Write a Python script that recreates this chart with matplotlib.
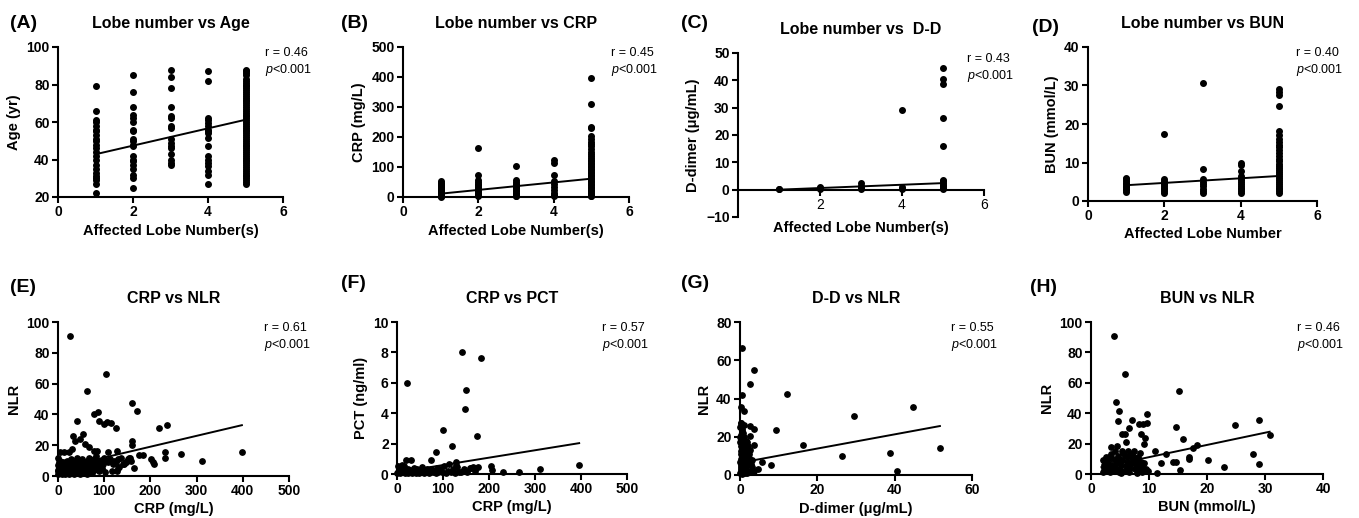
import matplotlib
matplotlib.use("Agg")
from matplotlib import pyplot as plt
import numpy as np

plt.rcParams['font.family'] = ['Liberation Sans', 'DejaVu Sans']
plt.rcParams['axes.labelweight'] = 'bold'
plt.rcParams['mathtext.fontset'] = 'custom'
plt.rcParams['mathtext.it'] = 'Liberation Sans:italic:normal'
plt.rcParams['mathtext.rm'] = 'Liberation Sans:normal'

# ---- data ----
lobes = [1, 2, 3, 4, 5]

# (A) age by number of affected lobes
age_by_lobe = [
    [79, 66, 61, 60, 58, 56, 55, 53, 51, 50, 48, 46, 44, 42, 40, 37, 35, 33, 31, 30, 29, 27, 22],
    [85, 76, 68, 64, 62, 60, 56, 55, 51, 50, 48, 47, 42, 40, 39, 37, 35, 32, 30, 25],
    [88, 84, 78, 68, 63, 62, 58, 57, 51, 49, 47, 46, 43, 40, 38, 37],
    [87, 82, 62, 61, 59.5, 58, 56, 55, 54, 51.5, 47, 42, 40, 38, 36.5, 34, 32, 27],
    [88, 87, 86, 85, 83, 82, 81, 80, 79, 78, 77, 76, 75, 74, 73, 72, 71, 70, 69, 68, 67, 66,
     65, 64, 63, 62, 61, 60, 59, 58, 57, 56, 55, 54, 53, 52, 51, 50, 49, 48, 47, 46, 45, 44,
     43, 42, 41, 40, 39, 38, 37, 36, 35, 34, 33, 32, 31, 30, 29, 28, 27],
]
# (B) CRP by number of affected lobes
crp_by_lobe = [
    [52, 48, 45, 42, 40, 37, 35, 32, 30, 28, 25, 22, 20, 18, 15, 12, 10, 8, 5, 3, 1],
    [165, 72, 56, 50, 45, 40, 35, 30, 25, 20, 15, 10, 6, 2],
    [104, 56, 50, 45, 40, 35, 30, 25, 20, 15, 10, 5, 2],
    [125, 115, 72, 52, 45, 35, 25, 15, 8, 3],
    [397, 311, 235, 230, 205, 195, 185, 178, 170, 160, 150, 145, 138, 130, 125, 120, 115, 110,
     105, 100, 95, 90, 85, 80, 75, 70, 65, 60, 55, 50, 45, 40, 35, 30, 25, 20, 15, 10, 5, 2],
]
# (C) D-dimer by number of affected lobes
dd_by_lobe = [
    [0.2, 0.4],
    [1.0, 0.6, 0.2],
    [2.6, 1.2, 0.6, 0.2],
    [29.3, 0.9, 0.3],
    [44.5, 40.4, 38.8, 26.4, 16.1, 3.6, 3.0, 2.4, 1.8, 1.2, 0.6, 0.2],
]
# (D) BUN by number of affected lobes
bun_by_lobe = [
    [6.0, 5.6, 5.2, 4.8, 4.4, 4.0, 3.6, 3.2, 2.8, 2.4],
    [17.3, 5.6, 5.2, 4.8, 4.4, 4.0, 3.5, 3.0, 2.5, 2.0],
    [30.6, 8.2, 5.6, 5.0, 4.5, 4.0, 3.0, 2.5, 2.0],
    [9.8, 9.3, 7.8, 6.6, 6.0, 5.5, 5.0, 4.5, 4.0, 3.5, 3.0, 2.5, 2.0],
    [29.0, 28.4, 27.6, 24.7, 18.2, 17.1, 16.0, 15.2, 14.5, 14.0, 13.2, 12.5, 11.8, 11.0, 10.3,
     9.6, 9.0, 8.5, 8.0, 7.5, 7.0, 6.5, 6.0, 5.5, 5.0, 4.5, 4.0, 3.5, 3.0, 2.5, 2.0],
]

# (E) CRP vs NLR
e_crp = [26, 103, 63, 161, 170, 87, 77, 42, 89, 100, 105, 114, 126, 218, 237, 54, 33, 36, 47,
         160, 161, 58, 68, 31, 4, 14, 24, 79, 84, 108, 128, 232, 398, 175, 184, 267, 202, 206,
         207, 232, 311, 165, 101, 128, 117, 151, 148, 141, 133, 155,
         1, 2, 3, 1, 4, 5, 6, 7, 8, 9, 10, 11, 12, 13, 14, 15, 16, 17, 18, 19, 20, 21, 22, 23,
         24, 25, 26, 27, 28, 29, 30, 31, 33, 34, 35, 36, 37, 38, 40, 41, 42, 43, 45, 46, 47, 48,
         50, 52, 53, 55, 56, 58, 60, 62, 63, 65, 67, 68, 70, 72, 74, 75, 77, 79, 80, 82, 84, 86,
         88, 90, 92, 95, 97, 100, 104, 108, 112, 118, 122, 126, 130, 136, 142, 148, 153, 158,
         130, 0, 1, 3, 5, 2, 0, 4]
e_nlr = [91, 66.5, 55, 47.7, 42.5, 41.7, 40, 36, 36, 34, 35, 34.5, 31, 31, 33, 27, 26, 23, 24,
         22.7, 20, 20.5, 19, 17.7, 15.3, 15.3, 15.3, 16.4, 16, 15.3, 16.4, 15.3, 15.8, 13.6, 13.6,
         14, 11, 9.3, 7.8, 11.7, 10, 5.2, 2.6, 3, 3.5, 10.8, 8.9, 7.8, 6, 11.9,
         1, 3, 5, 7, 2, 8, 4, 6, 1, 3, 9, 5, 2, 7, 4, 1, 6, 8, 3, 10, 5, 2, 7, 4,
         1, 9, 6, 3, 11, 5, 2, 8, 4, 6, 1, 10, 3, 7, 5, 2, 12, 8, 4, 6, 1, 9,
         3, 5, 11, 7, 2, 4, 8, 10, 1, 6, 3, 12, 5, 9, 2, 7, 11, 4, 8, 13, 6, 9,
         3, 7, 10, 5, 8, 12, 10, 9, 11, 8, 10, 9, 11, 12, 8, 9, 12, 10,
         5, 3, 4, 2, 6, 9, 12, 10]

# (F) CRP vs PCT
f_crp = [142, 183, 21, 150, 147, 101, 174, 119, 85, 73, 19, 31, 396, 310, 266, 230, 204, 206,
         128, 128, 160, 175,
         1, 3, 5, 7, 9, 11, 13, 15, 17, 19, 21, 23, 25, 27, 29, 31, 33, 35, 37, 39, 41, 43, 45,
         47, 50, 53, 55, 58, 60, 63, 66, 69, 72, 75, 78, 81, 84, 87, 90, 94, 98, 102, 106, 110,
         114, 118, 122, 126, 130, 135, 140, 145, 152, 158, 165, 170, 2, 6, 10, 4]
f_pct = [8.03, 7.6, 6.0, 5.5, 4.27, 2.9, 2.5, 1.86, 1.42, 0.9, 0.9, 0.9, 0.61, 0.3, 0.15, 0.15,
         0.5, 0.26, 0.77, 0.6, 0.4, 0.45,
         0.05, 0.1, 0.2, 0.05, 0.3, 0.1, 0.15, 0.5, 0.05, 0.2, 0.1, 0.35, 0.05, 0.15, 0.25, 0.1,
         0.05, 0.2, 0.4, 0.1, 0.05, 0.3, 0.15, 0.05, 0.2, 0.1, 0.45, 0.05, 0.25, 0.1, 0.3, 0.05,
         0.15, 0.35, 0.1, 0.2, 0.05, 0.4, 0.1, 0.3, 0.15, 0.5, 0.05, 0.2, 0.65, 0.1, 0.3, 0.05,
         0.45, 0.15, 0.1, 0.35, 0.1, 0.4, 0.45, 0.2, 0.55, 0.45, 0.6, 0.35]

# (G) D-dimer vs NLR
g_dd = [0.5, 3.5, 2.5, 0.5, 12.1, 44.7, 29.4, 0.2, 1.0, 0.3, 2.6, 3.7, 9.3, 2.7, 3.5, 16.3,
        51.7, 38.9, 26.5, 5.7, 7.9, 4.6, 3.5, 40.5,
        0.1, 0.2, 0.3, 0.1, 0.4, 0.2, 0.5, 0.3, 0.1, 0.6, 0.2, 0.4, 0.1, 0.3, 0.7, 0.8, 0.9,
        1.0, 1.1, 1.2, 1.3, 1.4, 1.5, 1.0, 0.8, 1.6, 1.8, 2.0, 2.2, 2.4, 2.6, 1.9, 2.1, 1.7,
        2.8, 3.0, 3.2, 0.5, 1.2, 0.2, 0.6, 0.4, 0.9, 0.7, 1.1, 0.3, 0.5, 0.15, 0.35, 0.05,
        0.45, 0.25, 1.4, 1.3, 2.5, 0.6, 1.0, 3.3]
g_nlr = [66.4, 54.8, 47.7, 41.7, 42.6, 35.8, 30.6, 35.6, 33.6, 27, 25.7, 24, 23.6, 20.3, 15.5,
         15.6, 14.3, 11.3, 10.1, 7, 5, 3.1, 2, 1.9,
         1, 3, 5, 7, 9, 11, 13, 15, 17, 19, 21, 23, 25, 27, 2, 4, 6,
         8, 10, 12, 14, 16, 18, 20, 22, 3, 5, 7, 9, 11, 13, 1, 15, 17,
         6, 4, 8, 0.5, 0.8, 2, 4, 6, 12, 14, 1.5, 8.5, 10.5, 12.5, 18, 20,
         16, 4, 5.5, 9, 2, 24, 26, 1.5]

# (H) BUN vs NLR
h_bun = [3.9, 5.8, 15.1, 4.3, 4.8, 9.6, 4.7, 7.0, 29.0, 24.9, 8.3, 9.0, 9.7, 6.5, 14.6, 5.3,
         5.8, 8.6, 9.3, 15.8, 6.0, 9.2, 3.5, 4.5, 18.3, 17.5, 11.0, 28.0, 13.0, 16.9, 16.9, 20.1,
         29.0, 14.2, 14.7, 12.1, 22.9, 15.3, 11.3, 30.8,
         2.0, 2.2, 2.4, 2.1, 2.6, 2.8, 3.0, 3.2, 3.4, 3.6, 3.8, 4.0, 4.2, 4.4, 4.6, 4.8, 5.0,
         5.2, 5.4, 5.6, 5.8, 6.0, 6.2, 6.4, 6.6, 6.8, 7.0, 7.2, 7.4, 7.6, 7.8, 8.0, 8.2, 8.4,
         8.6, 8.8, 9.0, 9.4, 9.8, 3.1, 3.5, 4.1, 5.3, 6.3, 2.5, 4.9, 5.9, 6.9, 7.3, 8.1, 8.5,
         3.3, 4.3, 5.1, 6.7, 7.9, 2.3, 9.2]
h_nlr = [91, 66, 54.7, 47.5, 41.4, 39.2, 34.8, 35.2, 35.4, 32.4, 32.8, 33.2, 33.7, 30, 30.6, 26,
         26, 26.3, 23.4, 23, 21, 20, 18, 18.5, 18.8, 16.8, 15.1, 13.1, 12.9, 10.9, 9.8, 9,
         6.6, 7.7, 7.7, 7.4, 4.4, 2.6, 0.9, 25.6,
         1, 4, 7, 9, 2, 5, 8, 1.5, 3, 6, 10, 2, 4.5, 7, 12, 1, 3.5,
         6, 9, 14, 2, 5, 8, 11, 1, 4, 7, 10, 15, 3, 6, 9, 2, 5,
         8, 1, 4, 3, 2, 11, 13, 15, 15, 15, 11.5, 10, 12, 13, 12, 11, 14,
         5.5, 9.5, 0.5, 6.5, 0.5, 6, 7]

# regression lines as drawn in the figure: x ends and y ends
fit_a = ([1, 5], [42.8, 61.2])
fit_b = ([1, 5], [11.1, 61.1])
fit_c = ([1, 5], [0.0, 2.4])
fit_d = ([1, 5], [4.1, 6.5])
fit_e = ([0, 398], [4.9, 33.0])
fit_f = ([0, 396], [0.1, 2.03])
fit_g = ([0, 51.7], [6.4, 25.6])
fit_h = ([1.8, 30.8], [4.5, 27.8])

r_values = ["0.46", "0.45", "0.43", "0.40", "0.61", "0.57", "0.55", "0.46"]

W, H = 1359, 518
fig = plt.figure(figsize=(W / 100, H / 100), dpi=100)


def make_ax(x0, x1, y0, y1):
    # pixel box -> figure fraction
    return fig.add_axes([x0 / W, 1 - y1 / H, (x1 - x0) / W, (y1 - y0) / H])


def tick_text(v):
    return str(v).replace('-', '\u2212')


def style(ax, xlim, xticks, ylim, yticks, xlabel, ylabel, title, r, rx):
    ax.set_xlim(*xlim)
    ax.set_ylim(*ylim)
    xticks, yticks = list(xticks), list(yticks)
    ax.set_xticks(xticks)
    ax.set_xticklabels([tick_text(v) for v in xticks], fontsize=10, fontweight='bold')
    ax.set_yticks(yticks)
    ax.set_yticklabels([tick_text(v) for v in yticks], fontsize=10, fontweight='bold')
    for s in ['top', 'right']:
        ax.spines[s].set_visible(False)
    for s in ['left', 'bottom']:
        ax.spines[s].set_linewidth(1.5)
    ax.tick_params(width=1.5, length=4, pad=2)
    ax.set_xlabel(xlabel, fontsize=10.5, fontweight='bold', labelpad=3)
    ax.set_ylabel(ylabel, fontsize=10.5, fontweight='bold', labelpad=4)
    ax.set_title(title, fontsize=11.5, fontweight='bold', pad=14)
    ax.text(rx, 1.0, "r = " + r + "\n$p$<0.001", transform=ax.transAxes, fontsize=9,
            fontweight='normal', va='top', ha='left', linespacing=1.25)


def column_scatter(ax, groups):
    for lobe, vals in zip(lobes, groups):
        ax.scatter([lobe] * len(vals), vals, s=16, color='black', clip_on=False, zorder=3)


dot = dict(s=15, color='black', clip_on=False, zorder=3)
line = dict(color='black', lw=1.4, zorder=4)

# row 1
ax = make_ax(58, 283, 47, 197)
column_scatter(ax, age_by_lobe)
ax.plot(*fit_a, **line)
style(ax, (0, 6), [0, 2, 4, 6], (20, 100), range(20, 101, 20),
      "Affected Lobe Number(s)", "Age (yr)", "Lobe number vs Age", r_values[0], 0.92)

ax = make_ax(403, 629, 47, 197)
column_scatter(ax, crp_by_lobe)
ax.plot(*fit_b, **line)
style(ax, (0, 6), [0, 2, 4, 6], (0, 500), range(0, 501, 100),
      "Affected Lobe Number(s)", "CRP (mg/L)", "Lobe number vs CRP", r_values[1], 0.92)

ax = make_ax(738, 984, 53, 217)
column_scatter(ax, dd_by_lobe)
ax.plot(*fit_c, **line)
style(ax, (0, 6), [2, 4, 6], (-10, 50), range(-10, 51, 10),
      "Affected Lobe Number(s)", "D-dimer (μg/mL)", "Lobe number vs  D-D", r_values[2], 0.93)
ax.spines['bottom'].set_position(('data', 0))
ax.xaxis.set_label_coords(0.5, -0.025)

ax = make_ax(1088, 1317, 47, 201)
column_scatter(ax, bun_by_lobe)
ax.plot(*fit_d, **line)
style(ax, (0, 6), [0, 2, 4, 6], (0, 40), range(0, 41, 10),
      "Affected Lobe Number", "BUN (mmol/L)", "Lobe number vs BUN", r_values[3], 0.91)

# row 2
ax = make_ax(58, 289, 322, 476)
ax.scatter(e_crp, e_nlr, **dot)
ax.plot(*fit_e, **line)
style(ax, (0, 500), range(0, 501, 100), (0, 100), range(0, 101, 20),
      "CRP (mg/L)", "NLR", "CRP vs NLR", r_values[4], 0.89)

ax = make_ax(397, 627, 322, 474)
ax.scatter(f_crp, f_pct, **dot)
ax.plot(*fit_f, **line)
style(ax, (0, 500), range(0, 501, 100), (0, 10), range(0, 11, 2),
      "CRP (mg/L)", "PCT (ng/ml)", "CRP vs PCT", r_values[5], 0.89)

ax = make_ax(740, 972, 322, 475)
ax.scatter(g_dd, g_nlr, **dot)
ax.plot(*fit_g, **line)
style(ax, (0, 60), range(0, 61, 20), (0, 80), range(0, 81, 20),
      "D-dimer (μg/mL)", "NLR", "D-D vs NLR", r_values[6], 0.91)

ax = make_ax(1091, 1323, 322, 474)
ax.scatter(h_bun, h_nlr, **dot)
ax.plot(*fit_h, **line)
style(ax, (0, 40), range(0, 41, 10), (0, 100), range(0, 101, 20),
      "BUN (mmol/L)", "NLR", "BUN vs NLR", r_values[7], 0.89)

# panel letters
panel_pos = [("(A)", 10, 23), ("(B)", 341, 23), ("(C)", 681, 23), ("(D)", 1032, 28),
             ("(E)", 10, 287), ("(F)", 341, 283), ("(G)", 681, 284), ("(H)", 1030, 287)]
for lab, px, py in panel_pos:
    fig.text(px / W, 1 - py / H, lab, fontsize=14, fontweight='bold', va='center', ha='left')

fig.savefig("out.png", dpi=100)
